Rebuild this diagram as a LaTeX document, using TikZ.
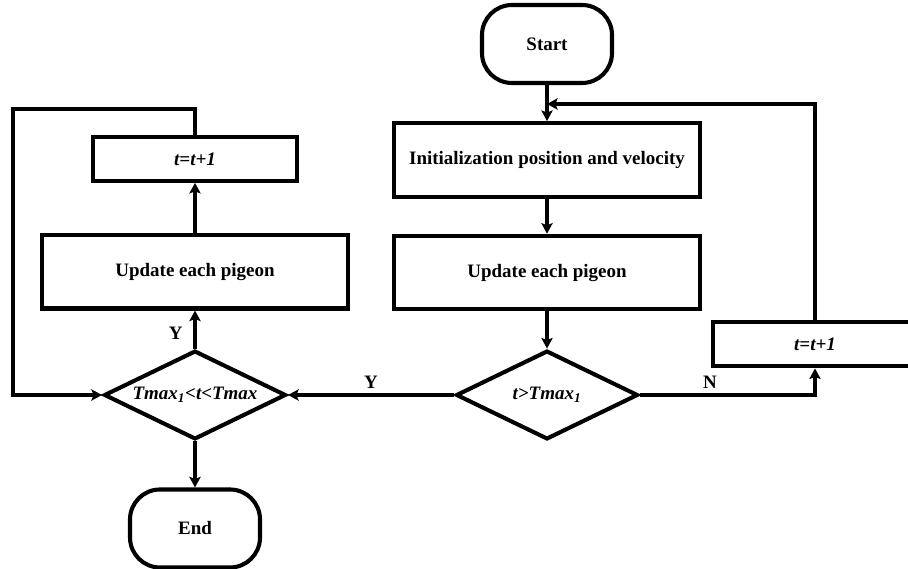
\documentclass[tikz,border=0pt]{standalone}
\usepackage{fontspec}
\setmainfont{Liberation Serif}
\usetikzlibrary{positioning,arrows.meta,shapes.geometric}

\begin{document}
\begin{tikzpicture}[
    line width=2.9pt,
    font=\fontsize{13.5}{15}\selectfont\bfseries,
    box/.style={rectangle, draw=black, minimum width=7.65cm, minimum height=1.84cm,
                inner sep=0pt, align=center},
    incbox/.style={rectangle, draw=black, minimum width=5.1cm, minimum height=1.1cm,
                inner sep=0pt, font=\fontsize{13.5}{15}\selectfont\bfseries\itshape},
    term/.style={rectangle, draw=black, rounded corners=0.75cm,
                minimum width=3.25cm, minimum height=1.95cm, inner sep=0pt},
    dec/.style={diamond, draw=black, aspect=2, inner sep=0pt,
                minimum width=4.55cm, minimum height=2.22cm,
                font=\fontsize{13.5}{15}\selectfont\bfseries\itshape},
    arrow/.style={-{Stealth[length=7.5pt,width=8pt,inset=1.5pt]}},
    lbl/.style={font=\fontsize{13.5}{15}\selectfont\bfseries}
]
    \useasboundingbox (0,0) rectangle (22.7,14.2);

    % right column
    \node[term] (start) at (13.675,13.1) {Start};
    \node[box, below=0.9cm of start] (init) {Initialization position and velocity};
    \node[box, below=0.875cm of init] (upd1) {Update each pigeon};
    \node[dec] (dec1) at (13.675,4.325) {t>Tmax\textsubscript{1}};
    \node[incbox] (inc1) at (20.375,5.59) {t=t+1};

    % left column
    \node[dec] (dec2) at (4.875,4.325) {Tmax\textsubscript{1}<t<Tmax};
    \node[box, above=0.95cm of dec2] (upd2) {Update each pigeon};
    \node[incbox, above=1.25cm of upd2] (inc2) {t=t+1};
    \node[term, below=1.15cm of dec2] (end) {End};

    \coordinate (merge) at (13.675,11.6);
    \coordinate (loopl) at (0.33,11.475);

    \draw[arrow] (start) -- (init);
    \draw[arrow] (init) -- (upd1);
    \draw[arrow] (upd1) -- (dec1);
    \draw[arrow] (dec1.east) -| node[lbl, pos=0.2, above] {N} (inc1.south);
    \draw[arrow] (inc1.north) |- (merge);
    \draw[arrow] (dec1.west) -- node[lbl, above] {Y} (dec2.east);
    \draw[arrow] (dec2.north) -- node[lbl, pos=0.05, above left, xshift=-4pt] {Y} (upd2.south);
    \draw[arrow] (upd2.north) -- (inc2.south);
    \draw[arrow] (inc2.north) |- (loopl) |- (dec2.west);
    \draw[arrow] (dec2.south) -- (end.north);
\end{tikzpicture}
\end{document}
